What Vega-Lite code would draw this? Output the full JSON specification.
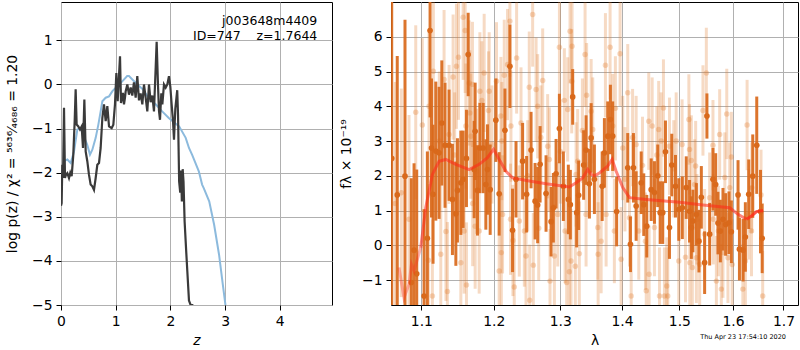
{
  "$schema": "https://vega.github.io/schema/vega-lite/v6.json",
  "padding": {"left": 5, "top": 1, "right": 0, "bottom": 0},
  "bounds": "flush",
  "spacing": 59,
  "datasets": {
    "pz": [
      {"z":0.0,"v":-2.75},{"z":0.012,"v":-2.69},{"z":0.024,"v":-1.82},{"z":0.037,"v":-2.12},{"z":0.055,"v":-0.53},{"z":0.073,"v":-2.12},
      {"z":0.09,"v":-2.05},{"z":0.116,"v":-2.01},{"z":0.146,"v":-2.12},{"z":0.17,"v":-2.0},{"z":0.195,"v":-2.08},{"z":0.225,"v":-1.59},
      {"z":0.25,"v":-0.83},{"z":0.268,"v":-0.11},{"z":0.286,"v":-0.91},{"z":0.317,"v":-0.95},{"z":0.347,"v":-1.02},{"z":0.378,"v":-0.95},
      {"z":0.402,"v":-1.44},{"z":0.427,"v":-0.34},{"z":0.451,"v":-1.52},{"z":0.481,"v":-1.74},{"z":0.512,"v":-2.05},{"z":0.542,"v":-2.27},
      {"z":0.573,"v":-2.31},{"z":0.603,"v":-2.39},{"z":0.634,"v":-2.12},{"z":0.664,"v":-1.82},{"z":0.695,"v":-1.78},{"z":0.725,"v":-1.44},
      {"z":0.756,"v":-0.76},{"z":0.786,"v":-0.45},{"z":0.817,"v":-0.83},{"z":0.847,"v":-0.49},{"z":0.878,"v":-0.95},{"z":0.926,"v":-0.99},
      {"z":0.957,"v":-0.91},{"z":0.987,"v":-0.45},{"z":1.012,"v":0.26},{"z":1.036,"v":-0.38},{"z":1.06,"v":0.19},{"z":1.079,"v":0.64},
      {"z":1.097,"v":-0.42},{"z":1.115,"v":-0.3},{"z":1.133,"v":-0.19},{"z":1.152,"v":-0.45},{"z":1.17,"v":-0.3},{"z":1.182,"v":-0.16},
      {"z":1.213,"v":0.0},{"z":1.243,"v":-0.23},{"z":1.274,"v":-0.07},{"z":1.304,"v":-0.25},{"z":1.334,"v":0.05},{"z":1.365,"v":-0.3},
      {"z":1.395,"v":0.19},{"z":1.426,"v":-0.36},{"z":1.456,"v":-0.2},{"z":1.487,"v":-0.45},{"z":1.517,"v":0.0},{"z":1.548,"v":-0.3},
      {"z":1.578,"v":-0.61},{"z":1.609,"v":0.0},{"z":1.639,"v":-0.4},{"z":1.67,"v":-0.25},{"z":1.7,"v":-0.61},{"z":1.731,"v":0.38},
      {"z":1.749,"v":0.97},{"z":1.773,"v":0.0},{"z":1.792,"v":-0.6},{"z":1.81,"v":-0.8},{"z":1.834,"v":-0.2},{"z":1.853,"v":-0.45},
      {"z":1.883,"v":0.0},{"z":1.914,"v":-0.07},{"z":1.944,"v":0.0},{"z":1.974,"v":0.19},{"z":1.999,"v":-0.05},{"z":2.023,"v":-0.45},
      {"z":2.048,"v":-0.83},{"z":2.066,"v":-1.25},{"z":2.09,"v":-0.55},{"z":2.125,"v":-0.13},{"z":2.14,"v":-0.7},{"z":2.16,"v":-2.2},
      {"z":2.18,"v":-2.45},{"z":2.195,"v":-1.95},{"z":2.21,"v":-2.65},{"z":2.225,"v":-1.92},{"z":2.24,"v":-2.2},{"z":2.26,"v":-3.1},
      {"z":2.29,"v":-3.8},{"z":2.31,"v":-4.24},{"z":2.34,"v":-4.9},{"z":2.37,"v":-5.0},{"z":2.42,"v":-5.0}
    ],
    "prior": [
      {"z":0.0,"v":-2.35},{"z":0.012,"v":-2.2},{"z":0.03,"v":-1.9},{"z":0.055,"v":-1.74},{"z":0.116,"v":-1.7},{"z":0.177,"v":-1.78},
      {"z":0.238,"v":-1.52},{"z":0.299,"v":-1.02},{"z":0.36,"v":-0.99},{"z":0.42,"v":-1.18},{"z":0.48,"v":-1.37},{"z":0.53,"v":-1.59},
      {"z":0.573,"v":-1.48},{"z":0.634,"v":-1.21},{"z":0.683,"v":-0.91},{"z":0.725,"v":-0.61},{"z":0.756,"v":-0.38},{"z":0.817,"v":-0.3},
      {"z":0.878,"v":-0.27},{"z":0.94,"v":-0.15},{"z":1.03,"v":-0.04},{"z":1.12,"v":0.07},{"z":1.21,"v":0.19},{"z":1.243,"v":0.19},
      {"z":1.3,"v":0.12},{"z":1.395,"v":0.0},{"z":1.49,"v":-0.1},{"z":1.6,"v":-0.3},{"z":1.73,"v":-0.45},{"z":1.85,"v":-0.61},
      {"z":1.97,"v":-0.76},{"z":2.16,"v":-0.95},{"z":2.28,"v":-1.21},{"z":2.34,"v":-1.44},{"z":2.4,"v":-1.6},{"z":2.52,"v":-1.97},
      {"z":2.58,"v":-2.27},{"z":2.61,"v":-2.35},{"z":2.71,"v":-2.65},{"z":2.8,"v":-3.18},{"z":2.89,"v":-3.86},{"z":2.96,"v":-4.55},
      {"z":3.01,"v":-5.03}
    ],
    "info": [
      {"z":4.686,"v":1.44,"t":"j003648m4409"},
      {"z":4.686,"v":1.1,"t":"ID=747\u00a0\u00a0\u00a0\u00a0z=1.7644"}
    ],
    "dark": [
      {"l":1.0615,"f":2.5,"e":8},{"l":1.0686,"f":1.45,"e":4},{"l":1.0786,"f":1.99,"e":4.5},{"l":1.0868,"f":-1.07,"e":3},
      {"l":1.0904,"f":-0.14,"e":2.5},{"l":1.0939,"f":-0.82,"e":3},{"l":1.1036,"f":-1.46,"e":2.5},{"l":1.108,"f":0.2,"e":2.5},
      {"l":1.1116,"f":6.18,"e":2.5},{"l":1.1135,"f":2.8,"e":2.0},{"l":1.1156,"f":1.47,"e":2.0},{"l":1.1193,"f":2.71,"e":2.0},
      {"l":1.1237,"f":2.66,"e":1.9},{"l":1.1274,"f":3.52,"e":1.8},{"l":1.1318,"f":2.88,"e":1.8},{"l":1.1373,"f":2.88,"e":1.6},
      {"l":1.1419,"f":1.32,"e":1.6},{"l":1.1466,"f":0.91,"e":1.5},{"l":1.1488,"f":1.58,"e":1.5},{"l":1.1535,"f":1.8,"e":1.5},
      {"l":1.1567,"f":1.9,"e":1.4},{"l":1.1613,"f":2.5,"e":1.4},{"l":1.1637,"f":5.49,"e":1.2},{"l":1.1721,"f":2.18,"e":1.4},
      {"l":1.1735,"f":3.28,"e":1.4},{"l":1.1768,"f":1.58,"e":1.3},{"l":1.1802,"f":2.8,"e":1.3},{"l":1.1849,"f":2.8,"e":1.3},
      {"l":1.1887,"f":1.75,"e":1.3},{"l":1.191,"f":2.18,"e":1.3},{"l":1.1949,"f":1.6,"e":1.3},{"l":1.2031,"f":3.6,"e":1.2},
      {"l":1.2079,"f":1.48,"e":1.2},{"l":1.2163,"f":3.31,"e":1.2},{"l":1.2236,"f":5.15,"e":1.2},{"l":1.2275,"f":0.43,"e":1.2},
      {"l":1.2326,"f":1.9,"e":1.1},{"l":1.2424,"f":2.42,"e":1.1},{"l":1.2484,"f":1.47,"e":1.1},{"l":1.2551,"f":2.74,"e":1.1},
      {"l":1.2612,"f":1.27,"e":1.1},{"l":1.2651,"f":1.16,"e":1.1},{"l":1.2688,"f":2.33,"e":1.1},{"l":1.2779,"f":1.49,"e":1.1},
      {"l":1.2857,"f":0.68,"e":1.0},{"l":1.2892,"f":1.08,"e":1.0},{"l":1.2934,"f":2.06,"e":1.0},{"l":1.2986,"f":3.36,"e":1.0},
      {"l":1.3048,"f":1.7,"e":1.0},{"l":1.3126,"f":1.32,"e":1.0},{"l":1.3158,"f":1.17,"e":1.0},{"l":1.3195,"f":4.27,"e":0.8},
      {"l":1.3258,"f":0.94,"e":1.0},{"l":1.329,"f":1.44,"e":1.0},{"l":1.337,"f":2.31,"e":1.0},{"l":1.3409,"f":2.74,"e":1.0},
      {"l":1.3463,"f":1.77,"e":1.0},{"l":1.3491,"f":3.09,"e":1.0},{"l":1.3544,"f":1.9,"e":1.0},{"l":1.3671,"f":1.7,"e":1.0},
      {"l":1.3708,"f":2.66,"e":1.0},{"l":1.3763,"f":3.14,"e":1.0},{"l":1.3807,"f":3.62,"e":1.0},{"l":1.3845,"f":3.14,"e":1.0},
      {"l":1.3911,"f":0.97,"e":1.0},{"l":1.4098,"f":2.23,"e":1.0},{"l":1.4144,"f":0.03,"e":0.8},{"l":1.4195,"f":2.23,"e":1.0},
      {"l":1.4241,"f":1.13,"e":1.0},{"l":1.4328,"f":1.8,"e":0.9},{"l":1.4372,"f":1.17,"e":0.9},{"l":1.4424,"f":0.55,"e":0.9},
      {"l":1.4501,"f":1.6,"e":0.9},{"l":1.4558,"f":1.52,"e":0.9},{"l":1.4616,"f":2.0,"e":0.9},{"l":1.4658,"f":0.94,"e":0.9},
      {"l":1.4704,"f":0.94,"e":0.9},{"l":1.4752,"f":2.69,"e":0.9},{"l":1.4823,"f":0.51,"e":0.9},{"l":1.4864,"f":2.31,"e":0.9},
      {"l":1.4931,"f":1.7,"e":0.9},{"l":1.499,"f":1.03,"e":0.9},{"l":1.5054,"f":1.08,"e":0.9},{"l":1.5125,"f":1.66,"e":0.9},
      {"l":1.5185,"f":0.98,"e":0.9},{"l":1.5218,"f":0.51,"e":0.9},{"l":1.5247,"f":0.7,"e":0.9},{"l":1.531,"f":0.89,"e":0.9},
      {"l":1.5358,"f":0.12,"e":0.9},{"l":1.5402,"f":1.38,"e":0.9},{"l":1.5463,"f":-0.5,"e":0.9},{"l":1.5506,"f":3.72,"e":0.65},
      {"l":1.5557,"f":0.32,"e":0.9},{"l":1.5619,"f":1.9,"e":0.9},{"l":1.567,"f":1.75,"e":0.9},{"l":1.5713,"f":0.64,"e":0.9},
      {"l":1.5758,"f":0.41,"e":0.9},{"l":1.5808,"f":0.75,"e":0.9},{"l":1.5859,"f":0.6,"e":0.9},{"l":1.5922,"f":0.65,"e":0.9},
      {"l":1.5968,"f":0.39,"e":0.9},{"l":1.6097,"f":1.45,"e":1.0},{"l":1.6124,"f":-0.11,"e":0.9},{"l":1.6195,"f":-0.14,"e":0.9},
      {"l":1.6239,"f":0.24,"e":1.0},{"l":1.6305,"f":1.47,"e":1.0},{"l":1.6384,"f":1.99,"e":1.2},{"l":1.6463,"f":2.88,"e":1.4},
      {"l":1.6537,"f":0.97,"e":1.2},{"l":1.6571,"f":0.2,"e":1.0}
    ],
    "light": [
      {"l":1.066,"f":1.2,"e":3.5},{"l":1.0738,"f":1.51,"e":3},{"l":1.0838,"f":0.75,"e":3},{"l":1.0926,"f":3.83,"e":2.5},
      {"l":1.1013,"f":3.46,"e":2.5},{"l":1.1093,"f":-0.43,"e":2.2},{"l":1.1102,"f":4.0,"e":2.2},{"l":1.1147,"f":-1.46,"e":2.2},
      {"l":1.116,"f":5.01,"e":2.2},{"l":1.124,"f":3.0,"e":2.0},{"l":1.126,"f":-0.26,"e":2.0},{"l":1.1305,"f":4.77,"e":2.0},
      {"l":1.133,"f":0.4,"e":2.0},{"l":1.135,"f":-1.33,"e":2.0},{"l":1.1373,"f":3.19,"e":2.0},{"l":1.1428,"f":4.84,"e":1.8},
      {"l":1.145,"f":2.6,"e":1.8},{"l":1.1474,"f":5.15,"e":1.8},{"l":1.1502,"f":5.41,"e":1.8},{"l":1.1535,"f":-0.5,"e":1.8},
      {"l":1.1567,"f":6.56,"e":1.8},{"l":1.1581,"f":0.41,"e":1.8},{"l":1.1595,"f":6.18,"e":1.8},{"l":1.1605,"f":3.43,"e":1.8},
      {"l":1.1613,"f":-1.14,"e":1.8},{"l":1.1651,"f":4.67,"e":1.8},{"l":1.166,"f":3.81,"e":1.8},{"l":1.1675,"f":3.14,"e":1.8},
      {"l":1.1697,"f":4.63,"e":1.8},{"l":1.17,"f":1.2,"e":1.8},{"l":1.1735,"f":0.55,"e":1.8},{"l":1.1754,"f":2.13,"e":1.8},
      {"l":1.1792,"f":0.41,"e":1.8},{"l":1.1802,"f":4.43,"e":1.7},{"l":1.183,"f":4.17,"e":1.7},{"l":1.1863,"f":4.96,"e":1.7},
      {"l":1.1925,"f":3.88,"e":1.7},{"l":1.1935,"f":4.43,"e":1.7},{"l":1.1975,"f":2.9,"e":1.7},{"l":1.204,"f":4.72,"e":1.7},
      {"l":1.2079,"f":-0.74,"e":1.7},{"l":1.2104,"f":3.72,"e":1.7},{"l":1.211,"f":-0.21,"e":1.7},{"l":1.2118,"f":3.0,"e":1.7},
      {"l":1.2128,"f":0.89,"e":1.7},{"l":1.2153,"f":4.89,"e":1.6},{"l":1.2201,"f":5.2,"e":1.6},{"l":1.2236,"f":6.45,"e":1.6},
      {"l":1.2245,"f":0.75,"e":1.6},{"l":1.2251,"f":3.43,"e":1.6},{"l":1.228,"f":0.14,"e":1.6},{"l":1.23,"f":-1.2,"e":1.6},
      {"l":1.2335,"f":5.39,"e":1.6},{"l":1.2375,"f":0.7,"e":1.6},{"l":1.24,"f":3.52,"e":1.6},{"l":1.245,"f":0.41,"e":1.6},
      {"l":1.2475,"f":-0.31,"e":1.6},{"l":1.25,"f":2.0,"e":1.6},{"l":1.2524,"f":4.55,"e":1.6},{"l":1.253,"f":-1.58,"e":1.6},
      {"l":1.2575,"f":6.64,"e":1.5},{"l":1.2585,"f":-0.57,"e":1.5},{"l":1.2627,"f":4.48,"e":1.5},{"l":1.2651,"f":4.0,"e":1.5},
      {"l":1.2667,"f":0.49,"e":1.5},{"l":1.27,"f":3.1,"e":1.5},{"l":1.2728,"f":4.74,"e":1.5},{"l":1.2804,"f":2.85,"e":1.5},
      {"l":1.283,"f":2.47,"e":1.5},{"l":1.284,"f":-1.03,"e":1.5},{"l":1.2908,"f":-0.31,"e":1.5},{"l":1.296,"f":0.89,"e":1.5},
      {"l":1.2986,"f":5.7,"e":1.5},{"l":1.3,"f":2.7,"e":1.5},{"l":1.3064,"f":4.17,"e":1.5},{"l":1.3075,"f":0.41,"e":1.5},
      {"l":1.31,"f":-1.07,"e":1.5},{"l":1.3116,"f":3.91,"e":1.5},{"l":1.3142,"f":-0.76,"e":1.5},{"l":1.3153,"f":6.16,"e":1.5},
      {"l":1.3169,"f":-0.45,"e":1.5},{"l":1.318,"f":4.72,"e":1.5},{"l":1.3185,"f":5.73,"e":1.5},{"l":1.3237,"f":-0.6,"e":1.5},
      {"l":1.3249,"f":2.04,"e":1.5},{"l":1.3274,"f":2.42,"e":1.5},{"l":1.3301,"f":-0.24,"e":1.5},{"l":1.335,"f":3.3,"e":1.5},
      {"l":1.3393,"f":5.49,"e":1.5},{"l":1.3409,"f":0.89,"e":1.5},{"l":1.3418,"f":4.32,"e":1.5},{"l":1.3491,"f":3.86,"e":1.5},
      {"l":1.3517,"f":3.33,"e":1.5},{"l":1.3599,"f":0.51,"e":1.5},{"l":1.3605,"f":-0.26,"e":1.5},{"l":1.3654,"f":0.12,"e":1.5},
      {"l":1.3725,"f":5.18,"e":1.5},{"l":1.3736,"f":0.89,"e":1.5},{"l":1.3802,"f":5.7,"e":1.5},{"l":1.3845,"f":3.43,"e":1.5},
      {"l":1.3873,"f":0.41,"e":1.5},{"l":1.389,"f":3.94,"e":1.5},{"l":1.3969,"f":5.51,"e":1.5},{"l":1.3986,"f":-0.4,"e":1.5},
      {"l":1.4014,"f":2.8,"e":1.5},{"l":1.405,"f":1.9,"e":1.5},{"l":1.4098,"f":4.39,"e":1.4},{"l":1.4128,"f":0.79,"e":1.4},
      {"l":1.4156,"f":-1.46,"e":1.4},{"l":1.418,"f":3.1,"e":1.4},{"l":1.4241,"f":2.9,"e":1.4},{"l":1.4286,"f":0.41,"e":1.4},
      {"l":1.435,"f":2.3,"e":1.4},{"l":1.4401,"f":0.12,"e":1.4},{"l":1.4415,"f":-1.31,"e":1.4},{"l":1.4459,"f":3.57,"e":1.4},
      {"l":1.4465,"f":-0.83,"e":1.4},{"l":1.4518,"f":3.43,"e":1.4},{"l":1.4558,"f":0.51,"e":1.4},{"l":1.46,"f":2.6,"e":1.4},
      {"l":1.4632,"f":3.33,"e":1.4},{"l":1.4646,"f":-1.46,"e":1.4},{"l":1.4675,"f":3.0,"e":1.4},{"l":1.4716,"f":3.95,"e":1.4},
      {"l":1.4734,"f":-1.46,"e":1.4},{"l":1.4775,"f":-1.17,"e":1.4},{"l":1.4793,"f":-1.46,"e":1.4},{"l":1.4823,"f":2.85,"e":1.4},
      {"l":1.49,"f":2.2,"e":1.4},{"l":1.4943,"f":3.0,"e":1.4},{"l":1.499,"f":-0.45,"e":1.4},{"l":1.505,"f":2.9,"e":1.3},
      {"l":1.5112,"f":-0.34,"e":1.3},{"l":1.5173,"f":3.62,"e":1.3},{"l":1.5185,"f":2.76,"e":1.3},{"l":1.519,"f":-0.5,"e":1.3},
      {"l":1.5218,"f":2.44,"e":1.3},{"l":1.5236,"f":-0.64,"e":1.3},{"l":1.5278,"f":1.75,"e":1.3},{"l":1.5297,"f":2.28,"e":1.3},
      {"l":1.531,"f":-0.36,"e":1.3},{"l":1.5321,"f":0.75,"e":1.3},{"l":1.5371,"f":-0.55,"e":1.3},{"l":1.5432,"f":3.88,"e":1.3},
      {"l":1.5463,"f":0.32,"e":1.3},{"l":1.5495,"f":4.96,"e":1.3},{"l":1.5557,"f":1.37,"e":1.3},{"l":1.5619,"f":2.88,"e":1.3},
      {"l":1.5625,"f":0.75,"e":1.3},{"l":1.5683,"f":-1.03,"e":1.3},{"l":1.572,"f":0.41,"e":1.3},{"l":1.5745,"f":3.19,"e":1.3},
      {"l":1.5777,"f":-1.26,"e":1.3},{"l":1.5808,"f":-0.21,"e":1.3},{"l":1.5843,"f":1.95,"e":1.3},{"l":1.588,"f":3.78,"e":1.3},
      {"l":1.5903,"f":-0.36,"e":1.3},{"l":1.5937,"f":1.66,"e":1.3},{"l":1.5968,"f":2.54,"e":1.3},{"l":1.5984,"f":-0.55,"e":1.3},
      {"l":1.619,"f":-1.26,"e":1.3},{"l":1.6239,"f":-0.45,"e":1.3},{"l":1.6273,"f":3.46,"e":1.3},{"l":1.6305,"f":0.89,"e":1.3},
      {"l":1.6359,"f":0.41,"e":1.3},{"l":1.6365,"f":1.66,"e":1.3},{"l":1.6548,"f":1.45,"e":1.3},{"l":1.6581,"f":-1.46,"e":1.3}
    ],
    "model": [
      {"l":1.0708,"f":-0.64,"s":"a"},{"l":1.0773,"f":-1.51,"s":"a"},{"l":1.0838,"f":-1.12,"s":"a"},{"l":1.087,"f":-0.55,"s":"a"},
      {"l":1.0904,"f":-0.73,"s":"a"},{"l":1.0992,"f":-0.07,"s":"a"},
      {"l":1.0992,"f":-0.07,"s":"b"},{"l":1.1058,"f":1.08,"s":"b"},{"l":1.1147,"f":2.04,"s":"b"},{"l":1.1237,"f":2.42,"s":"b"},
      {"l":1.1328,"f":2.47,"s":"b"},{"l":1.1466,"f":2.33,"s":"b"},{"l":1.1651,"f":2.18,"s":"b"},{"l":1.1792,"f":2.33,"s":"b"},
      {"l":1.191,"f":2.52,"s":"b"},{"l":1.1997,"f":2.76,"s":"b"},{"l":1.2079,"f":2.47,"s":"b"},{"l":1.2178,"f":2.13,"s":"b"},
      {"l":1.2275,"f":1.94,"s":"b"},{"l":1.2524,"f":1.85,"s":"b"},{"l":1.2779,"f":1.77,"s":"b"},{"l":1.3142,"f":1.68,"s":"b"},
      {"l":1.3249,"f":1.8,"s":"b"},{"l":1.3355,"f":1.94,"s":"b"},{"l":1.3436,"f":2.18,"s":"b"},{"l":1.3491,"f":2.04,"s":"b"},
      {"l":1.3544,"f":2.0,"s":"b"},{"l":1.3626,"f":2.08,"s":"b"},{"l":1.3763,"f":2.28,"s":"b"},{"l":1.3836,"f":2.47,"s":"b"},
      {"l":1.3903,"f":2.13,"s":"b"},{"l":1.4014,"f":1.66,"s":"b"},{"l":1.4128,"f":1.37,"s":"b"},{"l":1.4415,"f":1.32,"s":"b"},
      {"l":1.5005,"f":1.24,"s":"b"},{"l":1.5432,"f":1.16,"s":"b"},{"l":1.5937,"f":1.08,"s":"b"},{"l":1.6097,"f":0.89,"s":"b"},
      {"l":1.626,"f":0.75,"s":"b"},
      {"l":1.626,"f":0.75,"s":"c"},{"l":1.6359,"f":0.84,"s":"c"},{"l":1.6458,"f":0.97,"s":"c"},{"l":1.6589,"f":1.0,"s":"c"}
    ]
  },
  "hconcat": [
    {
      "width": 271,
      "height": 303,
      "encoding": {
        "x": {"field": "z", "type": "quantitative", "scale": {"domain": [0, 4.955], "nice": false, "zero": false},
              "axis": {"values": [0, 1, 2, 3, 4], "title": "z", "titleFontStyle": "italic", "titlePadding": 6}},
        "y": {"field": "v", "type": "quantitative", "scale": {"domain": [-5, 1.87], "nice": false, "zero": false},
              "axis": {"values": [-5, -4, -3, -2, -1, 0, 1], "title": "log p(z) / χ² = ⁵⁶³⁶⁄₄₆₈₆ = 1.20", "titlePadding": 12}}
      },
      "layer": [
        {"data": {"name": "prior"}, "mark": {"type": "line", "color": "#8cbadd", "strokeWidth": 2, "clip": true}},
        {"data": {"name": "pz"}, "mark": {"type": "line", "color": "#3a3a3a", "strokeWidth": 2.2, "clip": true}},
        {"data": {"name": "info"}, "mark": {"type": "text", "align": "right", "baseline": "middle", "fontSize": 12.5, "color": "black"},
         "encoding": {"text": {"field": "t"}}}
      ]
    },
    {
      "width": 407,
      "height": 303,
      "title": {"text": "Thu Apr 23 17:54:10 2020", "orient": "bottom", "anchor": "end", "fontSize": 6.5, "fontWeight": "normal", "color": "black", "dx": -12, "dy": -18},
      "encoding": {
        "x": {"field": "l", "type": "quantitative", "scale": {"type": "log", "domain": [1.0606, 1.73], "nice": false},
              "axis": {"values": [1.1, 1.2, 1.3, 1.4, 1.5, 1.6, 1.7], "format": ".1f", "title": "λ", "titlePadding": 6}},
        "y": {"field": "f", "type": "quantitative", "scale": {"domain": [-1.717, 7.0], "nice": false, "zero": false},
              "axis": {"values": [-1, 0, 1, 2, 3, 4, 5, 6], "title": "fλ × 10⁻¹⁹", "titlePadding": 8}}
      },
      "layer": [
        {"data": {"name": "light"}, "mark": {"type": "errorbar", "color": "#e07a2a", "opacity": 0.28, "thickness": 3, "clip": true},
         "encoding": {"yError": {"field": "e"}}},
        {"data": {"name": "light"}, "mark": {"type": "point", "filled": true, "shape": "circle", "size": 30, "color": "#e07a2a", "opacity": 0.3, "clip": true}},
        {"data": {"name": "dark"}, "mark": {"type": "errorbar", "color": "#d9691b", "opacity": 0.92, "thickness": 3, "clip": true},
         "encoding": {"yError": {"field": "e"}}},
        {"data": {"name": "dark"}, "mark": {"type": "point", "filled": true, "shape": "circle", "size": 32, "color": "#d9691b", "opacity": 1, "clip": true}},
        {"data": {"name": "model"}, "mark": {"type": "line", "color": "#ff2a1a", "strokeWidth": 3, "clip": true},
         "encoding": {"detail": {"field": "s"}, "opacity": {"field": "s", "type": "nominal", "scale": {"domain": ["a", "b", "c"], "range": [0.35, 0.8, 0.35]}, "legend": null}}},
        {"mark": {"type": "rule", "color": "black", "strokeWidth": 2, "strokeDash": [2, 3.3]}, "encoding": {"y": {"datum": 0}}}
      ]
    }
  ],
  "config": {
    "font": "DejaVu Sans",
    "background": "white",
    "view": {"stroke": "black", "strokeWidth": 1},
    "axis": {"grid": true, "gridColor": "#b0b0b0", "gridWidth": 1, "domain": false, "tickColor": "black", "tickSize": 5, "tickWidth": 1,
             "labelFontSize": 13.9, "labelColor": "black", "labelPadding": 4, "labelFlush": false, "labelOverlap": false,
             "titleFontSize": 13.9, "titleFontWeight": "normal", "titleColor": "black"}
  }
}
